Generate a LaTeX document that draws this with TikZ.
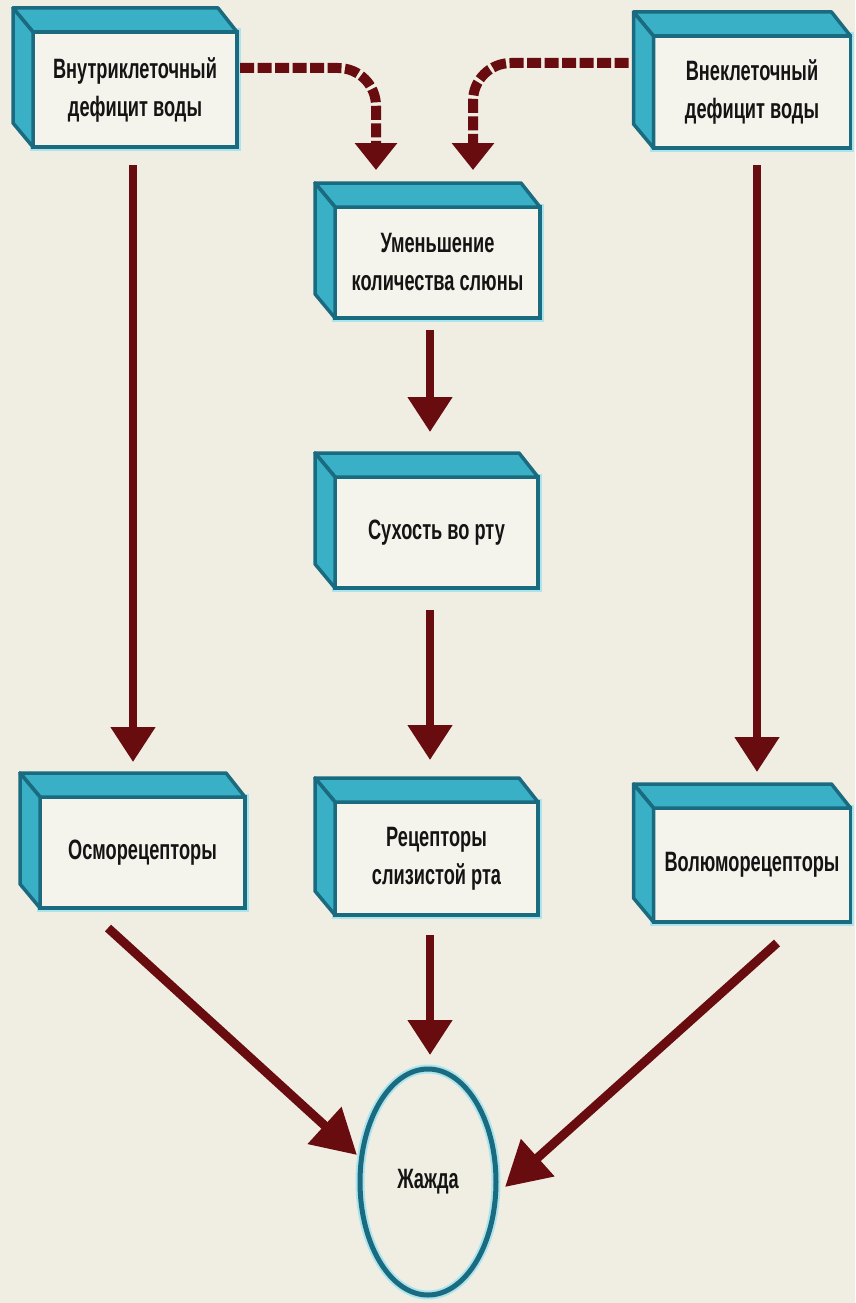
\documentclass[tikz,border=0pt]{standalone}
\usepackage{fontspec}
\setmainfont{Liberation Sans}[FakeStretch=0.65]
\usetikzlibrary{arrows.meta,calc,shapes.geometric}
\definecolor{bg}{RGB}{240,238,226}
\definecolor{frontfill}{RGB}{244,243,236}
\definecolor{tealface}{RGB}{58,176,198}
\definecolor{tealdark}{RGB}{26,106,128}
\definecolor{glow}{RGB}{172,228,238}
\definecolor{arrowred}{RGB}{104,12,16}
\definecolor{txt}{RGB}{20,20,20}
\begin{document}
\begin{tikzpicture}[x=1pt,y=-1pt,
  box/.style={draw=tealdark,line width=3.5pt,fill=frontfill,inner sep=0pt,outer sep=0pt,
    align=center,text=txt,font=\bfseries\fontsize{28}{38}\selectfont,
    preaction={draw=glow,line width=7pt}},
  face/.style={draw=tealdark,line width=3.5pt,fill=tealface,line join=round},
  arr/.style={draw=arrowred,line width=8pt,-{Triangle[width=43pt,length=35pt]}},
  diag/.style={draw=arrowred,line width=9pt,-{Triangle[width=48pt,length=44pt]}},
  darr/.style={draw=arrowred,line width=10pt,dash pattern=on 14pt off 3.5pt,
    -{Triangle[width=41pt,length=27pt]}},
  thirst/.style={ellipse,draw=tealdark,line width=5pt,inner sep=0pt,outer sep=0pt,
    minimum width=136pt,minimum height=226pt,text=txt,
    font=\bfseries\fontsize{28}{38}\selectfont,preaction={draw=glow,line width=9pt}}]
\useasboundingbox (0,0) rectangle (855,1303);
\fill[bg] (0,0) rectangle (855,1303);

\node[box,minimum width=204pt,minimum height=115pt] (A) at (135,89.5) {Внутриклеточный\\дефицит воды};
\node[box,minimum width=197pt,minimum height=112pt] (B) at (752,92) {Внеклеточный\\дефицит воды};
\node[box,minimum width=205pt,minimum height=111pt] (C) at (437.5,262.5) {Уменьшение\\количества слюны};
\node[box,minimum width=203pt,minimum height=111pt] (D) at (436.5,532.5) {Сухость во рту};
\node[box,minimum width=205pt,minimum height=111pt] (E) at (142.5,852.5) {Осморецепторы};
\node[box,minimum width=203pt,minimum height=113pt] (F) at (436.5,858.5) {Рецепторы\\слизистой рта};
\node[box,minimum width=197pt,minimum height=114pt] (G) at (752,865) {Волюморецепторы};
\node[thirst] (J) at (428,1182) {Жажда};

\foreach \n in {A,B,C,D,E,F,G}{
  \filldraw[face] (\n.north west) -- ++(-20,-24) -- ($(\n.north east)+(-19,-24)$) -- (\n.north east) -- cycle;
  \filldraw[face] (\n.north west) -- ++(-20,-24) -- ($(\n.south west)+(-20,-24)$) -- (\n.south west) -- cycle;
}

% dashed arrows
\draw[darr,rounded corners=38pt] ($(A.east)+(3,-21.5)$) -| ($(C.north)+(-61.5,-37)$);
\draw[darr,rounded corners=38pt] ($(B.west)+(-25,-29)$) -| ($(C.north)+(35.5,-37)$);

% vertical arrows
\draw[arr] ($(A.south)+(-2,18)$) -- ($(E.north)+(-9.5,-35)$);
\draw[arr] ($(B.south)+(5,17)$) -- ($(G.north)+(5,-36)$);
\draw[arr] ($(C.south)+(-7.5,12)$) -- ($(D.north)+(-6.5,-45)$);
\draw[arr] ($(D.south)+(-6.5,22)$) -- ($(F.north)+(-6.5,-42)$);
\draw[arr] ($(F.south)+(-6.5,20)$) -- ($(J.north)+(2,-14)$);

% diagonal arrows
\draw[diag] ($(E.south)+(-34.5,20)$) -- ($(J.west)+(-3,-27)$);
\draw[diag] ($(G.south)+(25,21)$) -- ($(J.east)+(9,5)$);
\end{tikzpicture}
\end{document}
